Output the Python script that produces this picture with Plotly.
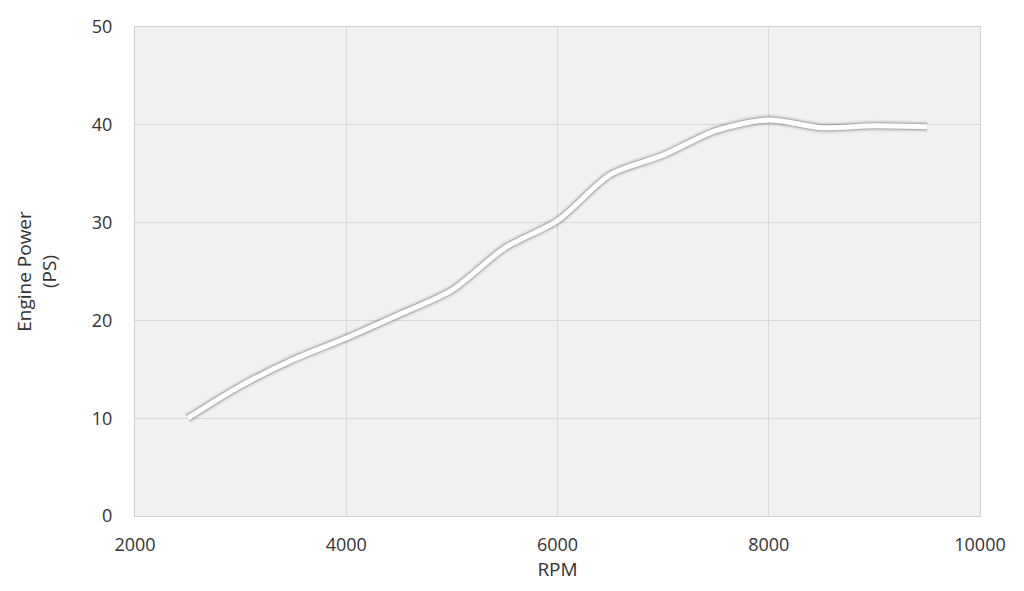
import plotly.graph_objects as go

rpm = [2500, 3000, 3500, 4000, 4500, 5000, 5500, 6000, 6500, 7000, 7500, 8000, 8500, 9000, 9500]
power = [10.0, 13.3, 16.0, 18.2, 20.6, 23.1, 27.4, 30.2, 34.9, 36.9, 39.4, 40.5, 39.7, 39.9, 39.8]

x_ticks = [2000, 4000, 6000, 8000, 10000]
y_ticks = [0, 10, 20, 30, 40, 50]

font_family = "Open Sans, Lato, sans-serif"
text_color = "#333333"

fig = go.Figure()
# soft shadow layers under the white line
for w, op in [(12, 0.05), (9, 0.10), (7, 0.18)]:
    fig.add_trace(go.Scatter(
        x=rpm, y=power, mode="lines",
        line=dict(color=f"rgba(30,30,30,{op})", width=w, shape="spline", smoothing=0.8),
        hoverinfo="skip", showlegend=False))
fig.add_trace(go.Scatter(
    x=rpm, y=power, mode="lines",
    line=dict(color="white", width=5, shape="spline", smoothing=0.8),
    showlegend=False, name="Engine Power"))

axis_common = dict(
    showgrid=True, gridcolor="#d8d8d8", gridwidth=1,
    showline=True, linecolor="#cfcfcf", linewidth=1, mirror=True,
    zeroline=False, ticks="", automargin=False,
    tickfont=dict(family=font_family, size=18, color=text_color),
)

fig.update_layout(
    width=1008, height=575,
    margin=dict(l=127, r=36, t=19, b=67, pad=0),
    paper_bgcolor="white", plot_bgcolor="#f1f1f1",
    xaxis=dict(range=[2000, 10000], tickvals=x_ticks, ticktext=[str(v) for v in x_ticks],
               title=dict(text="RPM", font=dict(family=font_family, size=19, color=text_color), standoff=8),
               ticklabelstandoff=12,
               **axis_common),
    yaxis=dict(range=[0, 50], tickvals=y_ticks, ticktext=[str(v) for v in y_ticks],
               title=dict(text="Engine Power<br>(PS)", font=dict(family=font_family, size=19, color=text_color), standoff=30),
               ticklabelstandoff=18,
               **axis_common),
)

fig.write_html("out.html")
